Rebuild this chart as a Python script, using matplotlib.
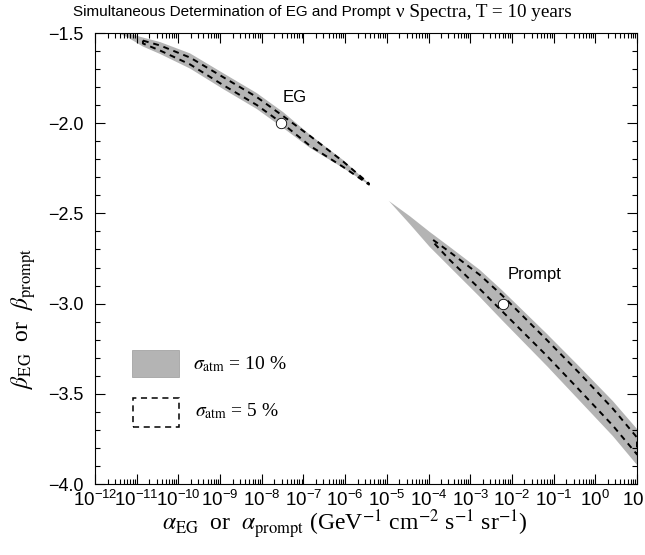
import matplotlib
matplotlib.use('Agg')
import matplotlib.pyplot as plt
import numpy as np
from matplotlib.patches import Rectangle
from matplotlib.ticker import LogLocator, MultipleLocator, NullFormatter, FuncFormatter

plt.rcParams['font.family'] = ['Liberation Sans', 'DejaVu Sans']
plt.rcParams['mathtext.fontset'] = 'stix'

# EG region, sigma_atm = 10 % (log10 alpha, upper / lower beta edge)
eg_logx = [-11.40, -11.23, -10.85, -10.44, -9.72, -8.93, -8.12, -7.49, -6.84, -6.05, -5.43]
eg_hi = [-1.492, -1.500, -1.525, -1.550, -1.613, -1.722, -1.833, -1.938, -2.065, -2.204, -2.334]
eg_lo = [-1.505, -1.522, -1.575, -1.616, -1.697, -1.810, -1.921, -2.026, -2.137, -2.248, -2.340]

# EG region, sigma_atm = 5 %
eg5_logx = [-10.85, -10.44, -9.72, -8.93, -8.12, -7.49, -6.84, -6.05, -5.43]
eg5_hi = [-1.542, -1.569, -1.636, -1.744, -1.855, -1.960, -2.071, -2.212, -2.334]
eg5_lo = [-1.558, -1.597, -1.674, -1.788, -1.899, -2.004, -2.126, -2.242, -2.340]

# Prompt region, sigma_atm = 10 %
pr_logx = [-4.95, -4.45, -3.97, -3.49, -2.77, -2.24, -1.16, -0.37, 0.42, 1.00]
pr_hi = [-2.431, -2.515, -2.603, -2.686, -2.813, -2.925, -3.168, -3.352, -3.540, -3.695]
pr_lo = [-2.431, -2.559, -2.686, -2.797, -2.963, -3.091, -3.346, -3.540, -3.734, -3.894]

# Prompt region, sigma_atm = 5 %
pr5_logx = [-3.89, -3.49, -2.77, -2.24, -1.16, -0.37, 0.42, 1.00]
pr5_hi = [-2.647, -2.714, -2.841, -2.953, -3.202, -3.388, -3.582, -3.742]
pr5_lo = [-2.659, -2.758, -2.919, -3.041, -3.290, -3.482, -3.676, -3.836]

# input (true) spectra
best_alpha = [2.9e-8, 6.0e-3]
best_beta = [-2.0, -3.0]
best_names = ['EG', 'Prompt']
name_alpha = [6.3e-8, 3.5e-2]
name_beta = [-1.86, -2.84]

gray = '#b4b4b4'
dash = (0, (3, 2.5))


def outline(logx, hi, lo, close=True):
    x = np.concatenate([logx, logx[::-1]])
    y = np.concatenate([hi, lo[::-1]])
    if close:
        x = np.append(x, x[0])
        y = np.append(y, y[0])
    return 10.0 ** x, y


fig = plt.figure(figsize=(6.45, 5.55), dpi=100)
ax = fig.add_axes([0.1473, 0.1279, 0.8403, 0.8126])

for lx, hi, lo in [(eg_logx, eg_hi, eg_lo), (pr_logx, pr_hi, pr_lo)]:
    x, y = outline(np.array(lx), np.array(hi), np.array(lo))
    ax.fill(x, y, color=gray, lw=0, zorder=1)

x, y = outline(np.array(eg5_logx), np.array(eg5_hi), np.array(eg5_lo))
ax.plot(x, y, color='black', lw=1.4, ls=dash, zorder=2)
x, y = outline(np.array(pr5_logx), np.array(pr5_hi), np.array(pr5_lo), close=False)
ax.plot(x, y, color='black', lw=1.4, ls=dash, zorder=2)

ax.plot(best_alpha, best_beta, 'o', ms=7.5, mfc='white', mec='black', mew=0.6, zorder=3)
for i, name in enumerate(best_names):
    ax.text(name_alpha[i], name_beta[i], name, fontsize=12, ha='center', va='center')

ax.set_xscale('log')
ax.set_xlim(1e-12, 1e1)
ax.set_ylim(-4.0, -1.5)
ax.xaxis.set_major_locator(LogLocator(base=10, numticks=20))
ax.xaxis.set_minor_locator(LogLocator(base=10, subs=np.arange(2, 10), numticks=20))
ax.xaxis.set_minor_formatter(NullFormatter())
ax.yaxis.set_major_locator(MultipleLocator(0.5))
ax.yaxis.set_minor_locator(MultipleLocator(0.1))
ax.yaxis.set_major_formatter(FuncFormatter(lambda v, p: ('%.1f' % v).replace('-', '\u2212')))
ax.tick_params(which='both', direction='in', top=True, right=True, width=0.8)
ax.tick_params(which='major', length=7)
ax.tick_params(which='minor', length=3.5)
ax.tick_params(axis='x', labelsize=13.5, pad=4)
ax.tick_params(axis='y', labelsize=13, pad=8)
for s in ax.spines.values():
    s.set_linewidth(0.8)

# legend drawn by hand
ax.add_patch(Rectangle((0.068, 0.237), 0.087, 0.06, transform=ax.transAxes,
                       facecolor=gray, edgecolor='#999999', lw=0.5))
ax.add_patch(Rectangle((0.070, 0.126), 0.085, 0.065, transform=ax.transAxes,
                       facecolor='none', edgecolor='black', lw=1.1, ls=(0, (4, 3))))
ax.text(0.18, 0.266, r'$\sigma_{\rm atm}$ = 10 %', transform=ax.transAxes,
        family='Liberation Serif', fontsize=14, va='center')
ax.text(0.185, 0.161, r'$\sigma_{\rm atm}$ = 5 %', transform=ax.transAxes,
        family='Liberation Serif', fontsize=14, va='center')

fig.text(0.605, 0.978, 'Simultaneous Determination of EG and Prompt', fontsize=11,
         ha='right', va='center')
fig.text(0.614, 0.978, '\u03bd Spectra, T = 10 years', family='Liberation Serif',
         fontsize=13.8, ha='left', va='center')

fig.text(0.535, 0.055, r'$\alpha_{\rm EG}$  or  $\alpha_{\rm prompt}$ (GeV$^{-1}$ cm$^{-2}$ s$^{-1}$ sr$^{-1}$)',
         family='Liberation Serif', fontsize=17, ha='center', va='center')
fig.text(0.036, 0.427, r'$\beta_{\rm EG}$  or  $\beta_{\rm prompt}$',
         family='Liberation Serif', fontsize=17, ha='center', va='center', rotation=90)

fig.savefig('out.png', dpi=100)
